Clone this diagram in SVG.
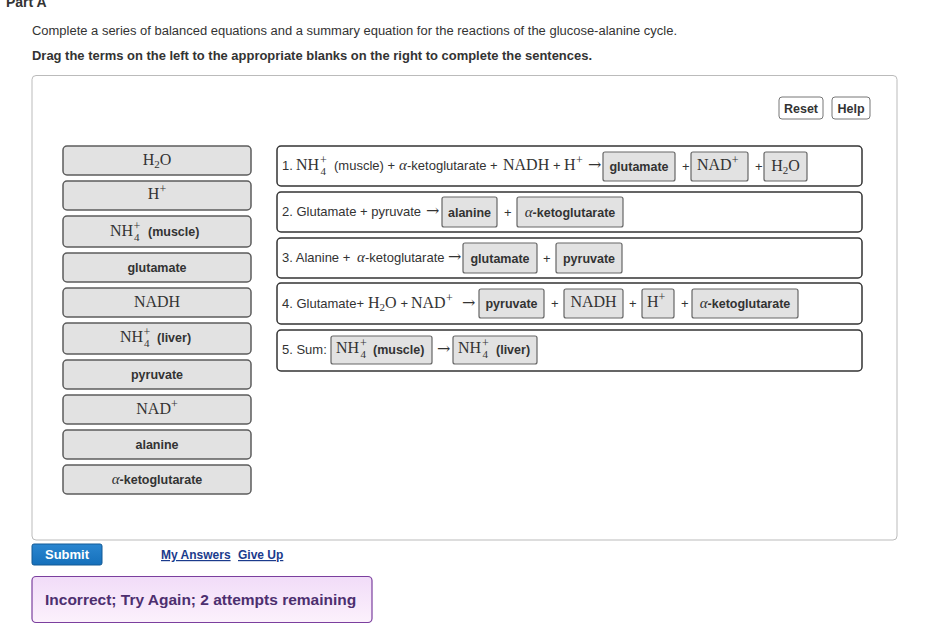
<svg xmlns="http://www.w3.org/2000/svg" width="925" height="639" viewBox="0 0 925 639">
<defs>
<linearGradient id="fb" x1="0" y1="0" x2="0" y2="1">
<stop offset="0" stop-color="#f1dcf8"/>
<stop offset="1" stop-color="#fcf1fc"/>
</linearGradient>
<linearGradient id="sb" x1="0" y1="0" x2="0" y2="1">
<stop offset="0" stop-color="#2a86d0"/>
<stop offset="1" stop-color="#1570bb"/>
</linearGradient>
<style>
.s{font-family:"Liberation Sans",Arial,sans-serif;font-size:12.5px;fill:#333}
.t{font-size:13px}
.b{font-weight:bold}
.m{font-family:"Liberation Serif","Times New Roman",serif;font-size:16px;fill:#333}
.sm{font-size:12px}
.sb{font-size:11px}
.i{font-style:italic}
.ar{font-family:"DejaVu Serif",serif;font-size:16px;fill:#333}
.tile{fill:#e2e2e2;stroke:#5c5c5c;stroke-width:1.5}
.drop{fill:#e2e2e2;stroke:#666;stroke-width:1.2}
.row{fill:#fff;stroke:#333;stroke-width:1.5}
.btn{fill:#fff;stroke:#777;stroke-width:1}
.lnk{font-family:"Liberation Sans",Arial,sans-serif;font-size:12px;font-weight:bold;fill:#1b3b8c;text-decoration:underline}
</style>
</defs>
<rect width="925" height="639" fill="#fff"/>

<g id="header">
<text x="6" y="7" class="s b" style="font-size:14px">Part A</text>
<text x="32" y="35" class="s" textLength="645" lengthAdjust="spacingAndGlyphs">Complete a series of balanced equations and a summary equation for the reactions of the glucose-alanine cycle.</text>
<text x="32" y="60" class="s b" textLength="560" lengthAdjust="spacingAndGlyphs">Drag the terms on the left to the appropriate blanks on the right to complete the sentences.</text>
</g>

<g id="container">
<rect x="32" y="75.5" width="865" height="464.5" rx="4" fill="#fff" stroke="#bbb" stroke-width="1"/>
</g>

<g id="reset">
<rect x="779" y="97" width="44" height="22" rx="3" class="btn"/>
<text x="801" y="112.5" class="s b" text-anchor="middle">Reset</text>
</g>
<g id="help">
<rect x="832" y="97" width="38" height="22" rx="3" class="btn"/>
<text x="851" y="112.5" class="s b" text-anchor="middle">Help</text>
</g>

<!-- Left term tiles -->
<g id="tile-h2o">
<rect x="63" y="146" width="188" height="29" rx="4" class="tile"/>
<text x="157" y="165" class="m" text-anchor="middle">H<tspan class="sb" dy="3">2</tspan><tspan dy="-3">O</tspan></text>
</g>
<g id="tile-hplus">
<rect x="63" y="181" width="188" height="29" rx="4" class="tile"/>
<text x="157" y="199" class="m" text-anchor="middle">H<tspan class="sm" dy="-6.5">+</tspan></text>
</g>
<g id="tile-nh4-muscle">
<rect x="63" y="216" width="188" height="31" rx="4" class="tile"/>
<text x="110" y="236" class="m">NH</text>
<text x="133.5" y="229.5" class="m sm">+</text>
<text x="134" y="241" class="m sb">4</text>
<text x="148" y="236" class="s b">(muscle)</text>
</g>
<g id="tile-glutamate">
<rect x="63" y="253" width="188" height="29" rx="4" class="tile"/>
<text x="157" y="272" class="s b" text-anchor="middle">glutamate</text>
</g>
<g id="tile-nadh">
<rect x="63" y="288" width="188" height="29" rx="4" class="tile"/>
<text x="157" y="307" class="m" text-anchor="middle">NADH</text>
</g>
<g id="tile-nh4-liver">
<rect x="63" y="323" width="188" height="31" rx="4" class="tile"/>
<text x="120" y="342" class="m">NH</text>
<text x="143.5" y="335.5" class="m sm">+</text>
<text x="144" y="347" class="m sb">4</text>
<text x="157" y="342" class="s b">(liver)</text>
</g>
<g id="tile-pyruvate">
<rect x="63" y="360" width="188" height="29" rx="4" class="tile"/>
<text x="157" y="379" class="s b" text-anchor="middle">pyruvate</text>
</g>
<g id="tile-nadplus">
<rect x="63" y="395" width="188" height="29" rx="4" class="tile"/>
<text x="157" y="414" class="m" text-anchor="middle">NAD<tspan class="sm" dy="-6.5">+</tspan></text>
</g>
<g id="tile-alanine">
<rect x="63" y="430" width="188" height="29" rx="4" class="tile"/>
<text x="157" y="449" class="s b" text-anchor="middle">alanine</text>
</g>
<g id="tile-akg">
<rect x="63" y="465" width="188" height="29" rx="4" class="tile"/>
<text x="157" y="484" class="s b" text-anchor="middle"><tspan class="m i" style="font-weight:normal;font-size:15px">α</tspan>-ketoglutarate</text>
</g>

<!-- Sentence rows -->
<g id="row1">
<rect x="277" y="146" width="585" height="40" rx="4" class="row"/>
<text x="282" y="170" class="s t">1.</text>
<text x="296" y="170" class="m">NH</text>
<text x="320" y="163.5" class="m sm">+</text>
<text x="320.5" y="175" class="m sb">4</text>
<text x="334" y="170" class="s t">(muscle) +</text>
<text x="399" y="170" class="m i" style="font-size:15px">α</text>
<text x="407" y="170" class="s t">-ketoglutarate +</text>
<text x="503" y="170" class="m">NADH</text>
<text x="553" y="170" class="s t">+</text>
<text x="564" y="170" class="m">H</text>
<text x="576" y="163.5" class="m sm">+</text>
<text x="588" y="170" class="ar">→</text>
<rect x="603" y="152" width="72" height="29" rx="2" class="drop"/>
<text x="639" y="171" class="s b" text-anchor="middle">glutamate</text>
<text x="682" y="171" class="s t">+</text>
<rect x="691" y="152" width="57" height="29" rx="2" class="drop"/>
<text x="697" y="170" class="m">NAD<tspan class="sm" dy="-6.5">+</tspan></text>
<text x="755" y="171" class="s t">+</text>
<rect x="764" y="152" width="43" height="29" rx="2" class="drop"/>
<text x="785.5" y="171" class="m" text-anchor="middle">H<tspan class="sb" dy="3">2</tspan><tspan dy="-3">O</tspan></text>
</g>

<g id="row2">
<rect x="277" y="192" width="585" height="40" rx="4" class="row"/>
<text x="282" y="216" class="s t">2. Glutamate + pyruvate</text>
<text x="426" y="216" class="ar">→</text>
<rect x="442" y="197" width="55" height="30" rx="2" class="drop"/>
<text x="469.5" y="216.5" class="s b" text-anchor="middle">alanine</text>
<text x="504" y="216.5" class="s t">+</text>
<rect x="517" y="197" width="106" height="30" rx="2" class="drop"/>
<text x="570" y="216.5" class="s b" text-anchor="middle"><tspan class="m i" style="font-weight:normal;font-size:15px">α</tspan>-ketoglutarate</text>
</g>

<g id="row3">
<rect x="277" y="238" width="585" height="40" rx="4" class="row"/>
<text x="282" y="262" class="s t">3. Alanine +</text>
<text x="357" y="262" class="m i" style="font-size:15px">α</text>
<text x="365" y="262" class="s t">-ketoglutarate</text>
<text x="448" y="262" class="ar">→</text>
<rect x="463" y="243" width="74" height="30" rx="2" class="drop"/>
<text x="500" y="262.5" class="s b" text-anchor="middle">glutamate</text>
<text x="543" y="262.5" class="s t">+</text>
<rect x="556" y="243" width="66" height="30" rx="2" class="drop"/>
<text x="589" y="262.5" class="s b" text-anchor="middle">pyruvate</text>
</g>

<g id="row4">
<rect x="277" y="283" width="585" height="41" rx="4" class="row"/>
<text x="282" y="308" class="s t">4. Glutamate+</text>
<text x="368" y="308" class="m">H<tspan class="sb" dy="3">2</tspan><tspan dy="-3">O</tspan></text>
<text x="400.5" y="308" class="s t">+</text>
<text x="411" y="308" class="m">NAD</text>
<text x="446" y="301.5" class="m sm">+</text>
<text x="462" y="308" class="ar">→</text>
<rect x="479" y="289" width="65" height="29" rx="2" class="drop"/>
<text x="511.5" y="308" class="s b" text-anchor="middle">pyruvate</text>
<text x="551" y="308" class="s t">+</text>
<rect x="564" y="289" width="59" height="29" rx="2" class="drop"/>
<text x="593.5" y="307" class="m" text-anchor="middle">NADH</text>
<text x="629" y="308" class="s t">+</text>
<rect x="642" y="289" width="32" height="29" rx="2" class="drop"/>
<text x="647" y="307" class="m">H<tspan class="sm" dy="-6.5">+</tspan></text>
<text x="681" y="308" class="s t">+</text>
<rect x="692" y="289" width="106" height="29" rx="2" class="drop"/>
<text x="745" y="308" class="s b" text-anchor="middle"><tspan class="m i" style="font-weight:normal;font-size:15px">α</tspan>-ketoglutarate</text>
</g>

<g id="row5">
<rect x="277" y="330" width="585" height="41" rx="4" class="row"/>
<text x="282" y="354" class="s t">5. Sum:</text>
<rect x="331" y="336" width="101" height="28" rx="2" class="drop"/>
<text x="336" y="353" class="m">NH</text>
<text x="360" y="346.5" class="m sm">+</text>
<text x="360.5" y="358" class="m sb">4</text>
<text x="373" y="354" class="s b">(muscle)</text>
<text x="437" y="354" class="ar">→</text>
<rect x="453" y="336" width="84" height="28" rx="2" class="drop"/>
<text x="458" y="353" class="m">NH</text>
<text x="482" y="346.5" class="m sm">+</text>
<text x="482.5" y="358" class="m sb">4</text>
<text x="496" y="354" class="s b">(liver)</text>
</g>

<g id="submit">
<rect x="32" y="544" width="70" height="21" rx="2" fill="url(#sb)" stroke="#135a96" stroke-width="1"/>
<text x="67" y="559" class="s b" text-anchor="middle" style="fill:#fff;font-size:13px">Submit</text>
</g>
<g id="links">
<text x="161" y="559" class="lnk">My Answers</text>
<text x="238" y="559" class="lnk">Give Up</text>
</g>

<g id="feedback">
<rect x="32" y="576.5" width="340" height="46" rx="4" fill="url(#fb)" stroke="#7b3f9e" stroke-width="1.2"/>
<text x="45" y="605" class="s b" style="font-size:15.5px;fill:#4d2f6f">Incorrect; Try Again; 2 attempts remaining</text>
</g>
</svg>
